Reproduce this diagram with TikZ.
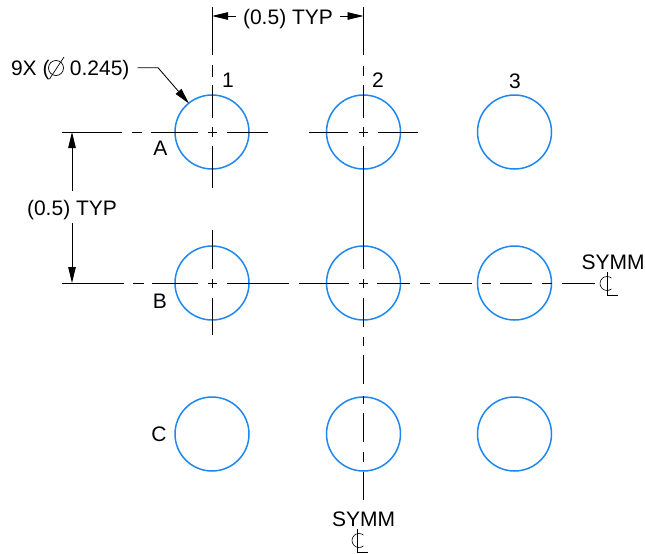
\documentclass[tikz,border=0pt]{standalone}
\usepackage{fontspec}
\setmainfont{Liberation Sans}
\usetikzlibrary{arrows.meta}
\definecolor{holeblue}{RGB}{30,136,240}
\tikzset{
  x=1pt,y=-1pt,
  hole/.style={circle,draw=holeblue,line width=1.5pt,minimum size=74pt,inner sep=0pt,outer sep=0pt},
  cl/.style={draw=black,line width=0.85pt},
  dim/.style={draw=black,line width=0.85pt,-{Triangle[length=16pt,width=7.5pt]}},
  thin sym/.style={draw=black,line width=0.6pt},
  lbl/.style={font=\fontsize{21}{21}\selectfont,inner sep=0pt,outer sep=0pt,text=black,anchor=base},
}
\begin{document}
\begin{tikzpicture}
\useasboundingbox (0,0) rectangle (645,554);
\fill[white] (0,0) rectangle (645,554);
% holes
\foreach \n/\x/\y in {a1/212/132,a2/363.5/132,a3/514.5/132,b1/212/283,b2/363.5/283,b3/514.5/283,c1/212/434,c2/363.5/434,c3/514.5/434}
  \node[hole] (\n) at (\x,\y) {};
% centre lines
\draw[cl] (212,7)--(212,55) (212,65)--(212,77) (212,85)--(212,118) (212,127)--(212,137) (212,146)--(212,188);
\draw[cl] (212,230)--(212,269) (212,279)--(212,288) (212,298)--(212,335);
\draw[cl] (363.5,7)--(363.5,55) (363.5,66)--(363.5,76) (363.5,85)--(363.5,118) (363.5,127)--(363.5,137) (363.5,146)--(363.5,269)
  (363.5,279)--(363.5,288) (363.5,298)--(363.5,327) (363.5,337)--(363.5,346) (363.5,355)--(363.5,384) (363.5,396)--(363.5,404)
  (363.5,413)--(363.5,442) (363.5,452)--(363.5,462) (363.5,472)--(363.5,500);
\draw[cl] (62,132)--(122,132) (132,132)--(142,132) (151,132)--(198,132) (208,132)--(217,132) (227,132)--(268,132);
\draw[cl] (309,132)--(348,132) (359,132)--(368,132) (378,132)--(418,132);
\draw[cl] (62,283)--(124,283) (133,283)--(144,283) (152,283)--(198,283) (208,283)--(217,283) (227,283)--(289,283)
  (299,283)--(349,283) (359,283)--(368,283) (377,283)--(410,283) (420,283)--(430,283) (439,283)--(472,283)
  (482,283)--(491,283) (500,283)--(532,283) (542,283)--(552,283) (562,283)--(595,283);
% dimensions
\coordinate (t1) at (212,16);\coordinate (t2) at (363.5,16);
\coordinate (t1s) at (236,16);\coordinate (t2s) at (340,16);
\coordinate (l1) at (72,132);\coordinate (l2) at (72,283);
\coordinate (l1s) at (72,191);\coordinate (l2s) at (72,223);
\node[lbl] (dimtop) at (288,24) {(0.5) TYP};
\node[lbl] (dimleft) at (72,215) {(0.5) TYP};
\draw[dim] (t1s) -- (t1);
\draw[dim] (t2s) -- (t2);
\draw[dim] (l1s) -- (l1);
\draw[dim] (l2s) -- (l2);
% hole callout
\node[lbl,anchor=base west] (call) at (11,75) {9X (};
\node[lbl,anchor=base east] (callb) at (129.5,75) {0.245)};
\draw[black,line width=0.7pt] (49.5,79)--(64,57);
\draw[black,line width=0.7pt] (56,68) circle (7.5pt);
\coordinate (cs) at (137.5,67.7);
\coordinate (ctip) at (189,103.5);
\coordinate (cbend) at (158,67.7);
\draw[dim] (cs) -- (cbend) -- (ctip);
% labels
\node[lbl] (n1) at (228,87) {1};
\node[lbl] (n2) at (378,87) {2};
\node[lbl] (n3) at (515,88) {3};
\node[lbl] (ra) at (160.5,155) {A};
\node[lbl] (rb) at (160,308) {B};
\node[lbl] (rc) at (159,441) {C};
\node[lbl] (s1) at (613,269) {SYMM};
\node[lbl] (s2) at (363.5,526) {SYMM};
% centre-line symbols
\draw[thin sym] (607,283.5) ++(50:7) arc (50:310:7);
\draw[thin sym] (607.5,272)--(607.5,295)--(618,295);
\draw[thin sym] (359,540.5) ++(50:7) arc (50:310:7);
\draw[thin sym] (357.5,529)--(357.5,552)--(368,552);
\end{tikzpicture}
\end{document}
